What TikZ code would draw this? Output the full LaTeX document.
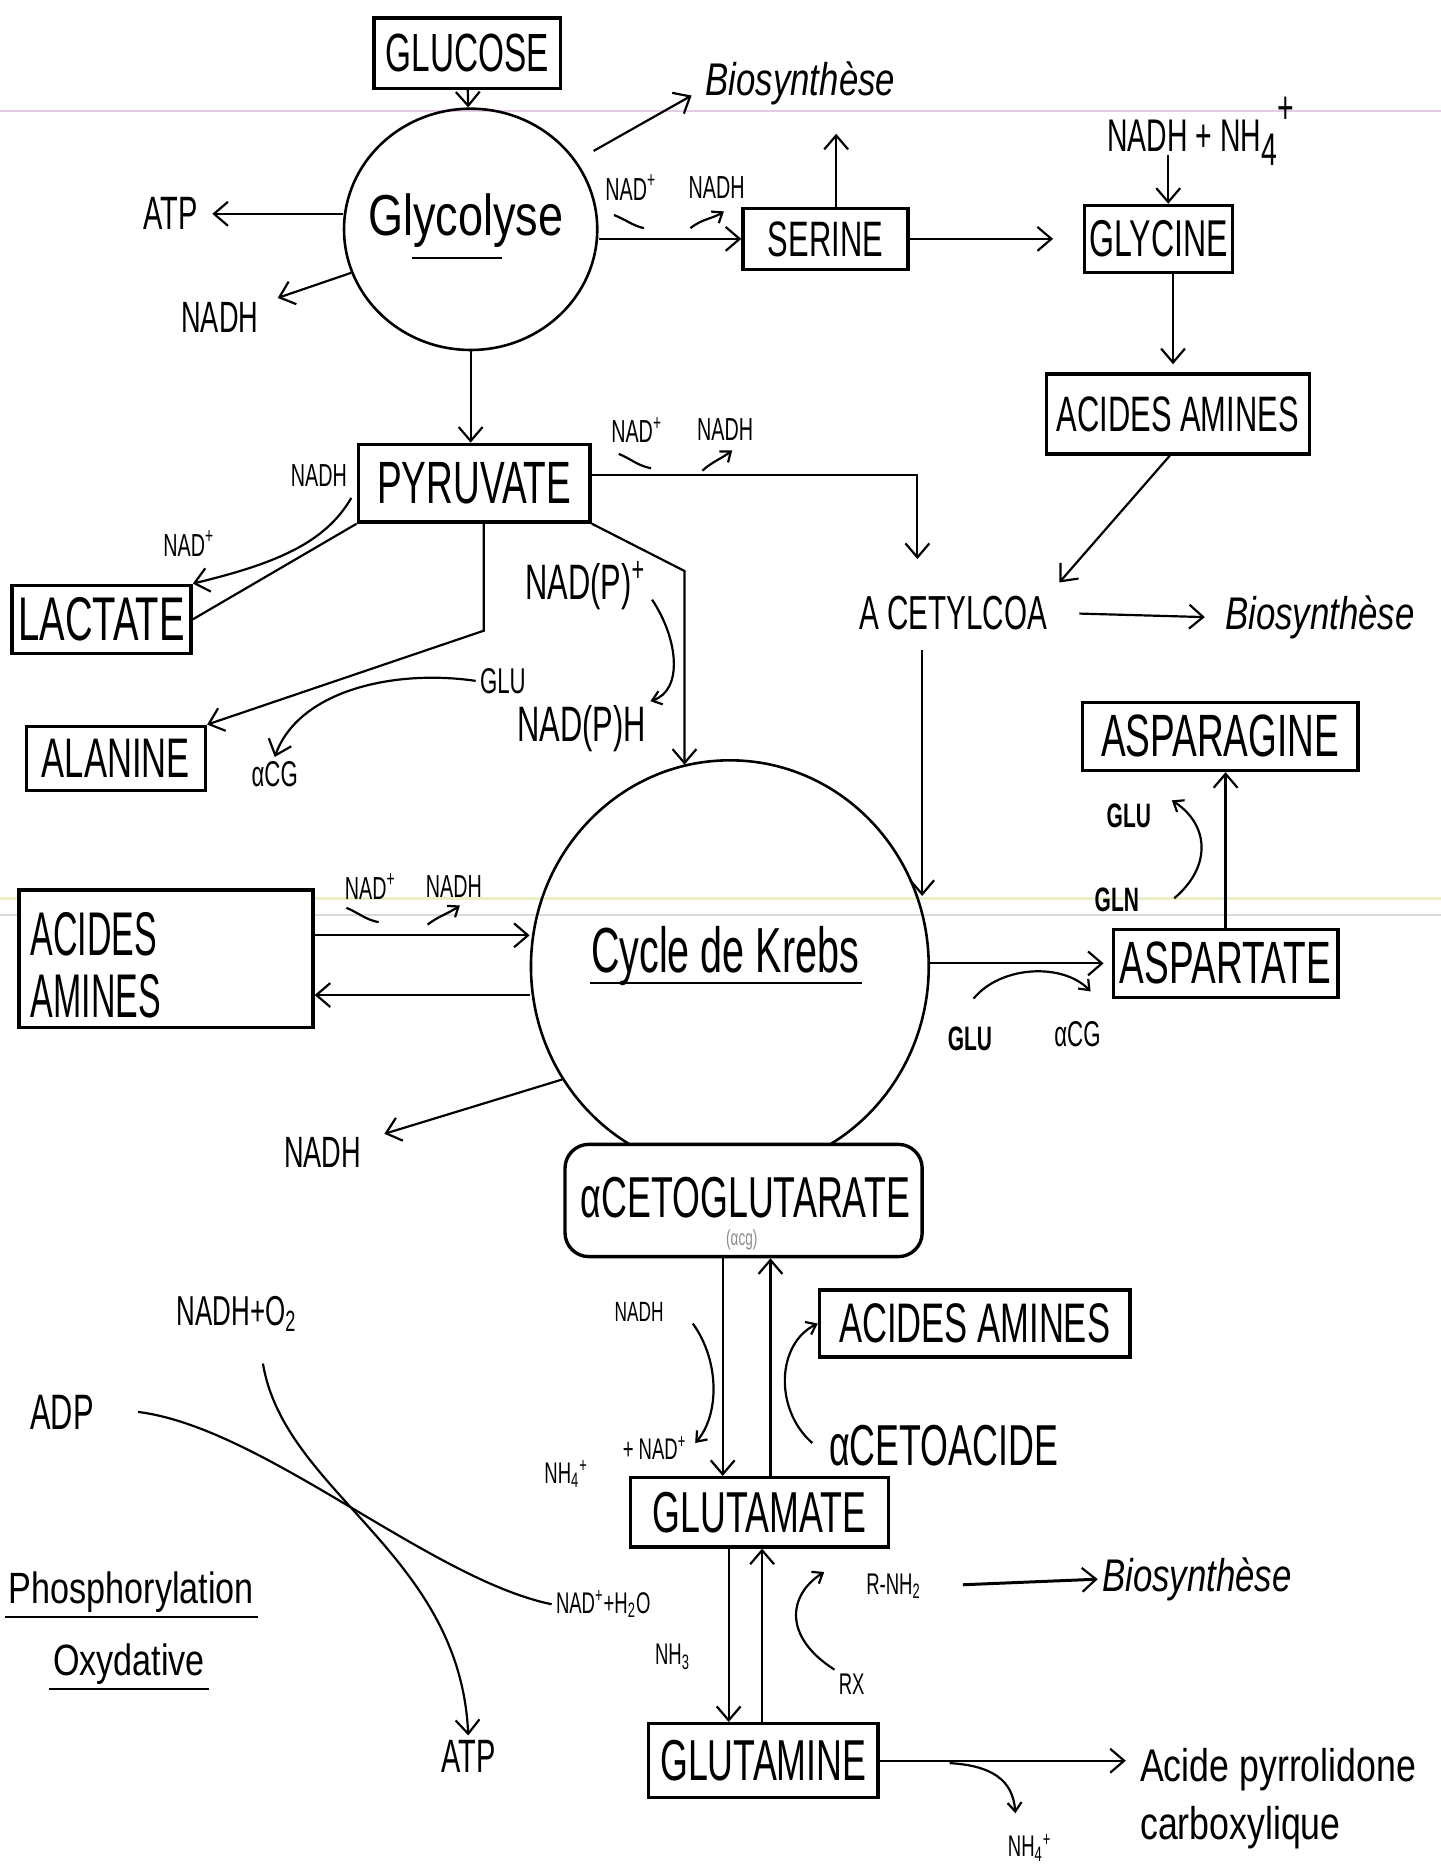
\documentclass[tikz,border=0pt]{standalone}
\usepackage{fontspec}
\setmainfont{Liberation Sans}
\newfontfamily\nf{Liberation Sans}[FakeStretch=0.62]
\newfontfamily\nnf{Liberation Sans}[FakeStretch=0.55]
\newfontfamily\mf{Liberation Sans}[FakeStretch=0.78]
\newfontfamily\itf{Liberation Sans}[FakeStretch=0.76]
\usetikzlibrary{arrows.meta,shapes.geometric,calc}
\newcommand\fsz[1]{\fontsize{#1}{#1}\selectfont}
\definecolor{scanpink}{RGB}{228,205,228}
\definecolor{scanyel}{RGB}{238,238,196}
\begin{document}
\begin{tikzpicture}[x=0.6pt,y=-0.6pt,
  bx/.style={draw,line width=1.7pt,inner sep=0pt,fill=white},
  wh/.style 2 args={minimum width=#1*0.6pt,minimum height=#2*0.6pt},
  ln/.style={line width=1.1pt},
  arr/.style={line width=1.1pt,-{Straight Barb[length=7pt,width=12pt,line width=1.1pt]}},
  sarr/.style={line width=1.1pt,-{Straight Barb[length=4.5pt,width=7pt,line width=1.1pt]}},
  txt/.style={inner sep=2pt},
  tx/.style={txt,font=\nf\fsz{#1}},
  mx/.style={txt,font=\mf\fsz{#1}},
  ix/.style={txt,font=\itf\itshape\fsz{#1}},
  ring/.style={draw,ellipse,line width=1.3pt,inner sep=0pt},
]
\fill[white] (0,0) rectangle (1206,1568);
\useasboundingbox (0,0) rectangle (1206,1568);
% faint scan lines
\draw[scanpink,line width=0.8pt] (0,93) -- (1206,93);
\draw[scanyel,line width=1.5pt] (0,752) -- (1206,752);
\draw[black!15,line width=0.6pt] (0,766) -- (1206,766);

% ---------- top part
\node[bx,wh={156}{59},tx=27] (glucose) at (391,44.5) {GLUCOSE};
\node[ring,wh={212}{202}] (glyc) at (394,192) {};
\node[mx=29] (glyct) at (390,185) {Glycolyse};
\draw[ln] (345,216) -- (420,216);
\node[tx=23.5] (atp1) at (143,179) {ATP};
\node[tx=22] (nadh1) at (184,266) {NADH};
\node[ix=23] (bio1) at (670,70) {Biosynthèse};
\node[bx,wh={138}{51},tx=25] (serine) at (691,200) {SERINE};
\node[tx=16] (nad1) at (528,157) {NAD\textsuperscript{+}};
\node[tx=16] (nadh1b) at (600,157) {NADH};
\node[bx,wh={124}{56},tx=26] (glycine) at (970,200) {GLYCINE};
\node[tx=23] (nadhnh) at (1005,110) {NADH + NH\raisebox{-7pt}{4}\raisebox{14pt}{+}};
\node[bx,wh={220}{67},tx=25] (aa1) at (986,346.5) {ACIDES AMINES};

\node[bx,wh={194}{65},tx=30] (pyr) at (397,404.5) {PYRUVATE};
\node[bx,wh={150}{57},tx=31] (lact) at (85,518.5) {LACTATE};
\node[bx,wh={150}{54},tx=28] (ala) at (97,635) {ALANINE};
\node[tx=24] (acoa) at (798,513) {A CETYLCOA};
\node[ix=23] (bio2) at (1105,517) {Biosynthèse};
\node[tx=16] (nad2) at (533,360) {NAD\textsuperscript{+}};
\node[tx=16] (nadh2) at (607,360) {NADH};
\node[tx=16] (nadh2l) at (267,398) {NADH};
\node[tx=16] (nad2l) at (158,455) {NAD\textsuperscript{+}};
\node[tx=18] (glu1) at (421,570) {GLU};
\node[tx=18] (acg1) at (230,648) {αCG};
\node[tx=25] (nadp) at (490,490) {NAD(P)\textsuperscript{+}};
\node[tx=25] (nadph) at (487,610) {NAD(P)H};

% ---------- Krebs
\node[ring,wh={333}{345}] (krebs) at (611,809) {};
\node[tx=32] (krebst) at (607,800) {Cycle de Krebs};
\draw[ln] (494,823) -- (722,823);
\node[bx,wh={231}{57},tx=30] (aspg) at (1021.5,616.5) {ASPARAGINE};
\node[bx,wh={188}{57},tx=30] (aspt) at (1026,806.5) {ASPARTATE};
\node[txt,font=\nf\bfseries\fsz{17}] (glu3) at (945,683) {GLU};
\node[txt,font=\nf\bfseries\fsz{17}] (gln) at (935,753) {GLN};
\node[txt,font=\nf\bfseries\fsz{17}] (glu2) at (812,870) {GLU};
\node[tx=18] (acg2) at (902,866) {αCG};
\node[bx,wh={246}{115}] (aaL) at (139,802.5) {};
\node[txt,font=\nnf\fontsize{31}{31}\selectfont,align=left,anchor=west] (aaLt) at (22,808) {ACIDES\\AMINES};
\node[tx=16] (nad3) at (310,742) {NAD\textsuperscript{+}};
\node[tx=16] (nadh3) at (380,742) {NADH};
\node[tx=22] (nadh4) at (270,965) {NADH};

\node[bx,rounded corners=12pt,wh={299}{94}] (acg) at (622.5,1005) {};
\node[tx=29] (acgt) at (624,1003) {αCETOGLUTARATE};
\node[txt,font=\nf\fsz{11},text=black!45] (acgs) at (621,1038) {(αcg)};

% ---------- bottom part
\node[tx=14] (nadh5) at (535,1098) {NADH};
\node[tx=15] (nh4a) at (474,1234) {NH\textsubscript{4}\textsuperscript{+}};
\node[tx=15] (nad5) at (548,1212) {+ NAD\textsuperscript{+}};
\node[bx,wh={260}{56},tx=28] (aa2) at (816,1108) {ACIDES AMINES};
\node[tx=29] (cetoac) at (790,1210) {αCETOACIDE};
\node[bx,wh={216}{58},tx=29] (glut) at (636,1266) {GLUTAMATE};
\node[bx,wh={192}{62},tx=29] (glun) at (639,1474) {GLUTAMINE};
\node[tx=15] (rnh2) at (748,1328) {R-NH\textsubscript{2}};
\node[tx=15] (rx) at (713,1410) {RX};
\node[ix=23] (bio3) at (1002,1322) {Biosynthèse};
\node[tx=15] (nadh2o) at (505,1343) {NAD\textsuperscript{+}+H\textsubscript{2}O};
\node[tx=15] (nh3) at (563,1387) {NH\textsubscript{3}};
\node[txt,font=\mf\fontsize{23}{29}\selectfont,align=left] (apc) at (1070,1506) {Acide pyrrolidone\\carboxylique};
\node[tx=15] (nh4b) at (862,1547) {NH\textsubscript{4}\textsuperscript{+}};
\node[tx=21] (nado2) at (198,1100) {NADH+O\textsubscript{2}};
\node[tx=25] (adp) at (52,1182) {ADP};
\node[tx=23.5] (atp2) at (392,1470) {ATP};
\node[mx=22] (phos) at (110,1333) {Phosphorylation};
\node[mx=22] (oxy) at (108,1393) {Oxydative};
\draw[ln] (phos.south west) -- (phos.south east);
\draw[ln] (oxy.south west) -- (oxy.south east);

% ---------- connectors (top)
\draw[arr] (glucose) -- (glyc);
\draw[arr,shorten >=5pt] (glyc.west |- atp1) -- (atp1);
\draw[arr,shorten >=8pt] (glyc.200) -- (nadh1);
\draw[arr,shorten <=10pt] (glyc.33) -- ([shift={(-8,10)}]bio1.west);
\draw[arr] (glyc.east |- serine) -- (serine.west);
\draw[ln] (514,180) .. controls (524,184) and (530,189) .. (539,191);
\draw[sarr] (578,191) .. controls (588,183) and (597,183) .. (606,177);
\coordinate (serup) at (700,112);
\draw[arr] (serine.north -| serup) -- (serup);
\draw[arr,shorten >=15pt] (serine) -- (glycine);
\coordinate (glyin) at (978,130);
\draw[arr] (glyin) -- (glyin |- glycine.north);
\coordinate (gx) at (982,0);
\draw[arr,shorten >=4pt] (glycine.south -| gx) -- (aa1.north -| gx);
\draw[arr,shorten >=6pt] ([xshift=-4pt]aa1.south) -- (acoa.north east);

\draw[arr] (glyc.south) -- (glyc.south |- pyr.north);
\coordinate (acin) at (768,468);
\draw[arr] ([yshift=4pt]pyr.east) -| (acin);
\draw[ln] (518,380) .. controls (528,384) and (534,390) .. (545,392);
\draw[sarr] (588,394) .. controls (597,386) and (604,384) .. (613,377);
\draw[arr,shorten <=14pt,shorten >=8pt] (acoa.east) -- (bio2.west);
\coordinate (kin) at (772,750);
\draw[arr,shorten <=8pt] (acoa.south -| kin) -- (kin);

\draw[ln] (pyr.south west) -- (lact.east);
\draw[arr] ([shift={(0,6)}]nadh2l.south east) .. controls (272,455) and (230,472) .. (lact.north east);
\coordinate (alk) at (405,528);
\draw[arr] (pyr.south -| alk) -- (alk) -- (ala.north east);
\draw[arr] (glu1.west) .. controls (330,560) and (250,578) .. (acg1.north);
\coordinate (pk) at (573,478);
\draw[arr] (pyr.south east) -- (pk) -- (pk |- krebs.103);
\draw[sarr] ([shift={(2,12)}]nadp.east) .. controls (568,535) and (572,578) .. (nadph.north east);

% ---------- connectors (Krebs)
\path ($(aaL.east)+(0,-19.5)$) coordinate (a1) ($(aaL.east)+(0,30.5)$) coordinate (a2);
\draw[arr] (a1) -- (a1 -| krebs.west);
\draw[arr] (a2 -| krebs.west) -- (a2);
\draw[ln] (290,760) .. controls (300,764) and (306,770) .. (317,772);
\draw[sarr] (358,774) .. controls (367,767) and (375,765) .. (385,758);
\draw[arr,shorten >=10pt] (krebs.214) -- (nadh4);
\draw[arr,shorten >=4pt] (krebs.east |- aspt.west) -- (aspt.west);
\draw[sarr] (815,836) .. controls (838,808) and (890,806) .. (913,830);
\draw[arr] (aspt.north) -- (aspt.north |- aspg.south);
\draw[sarr] (983,752) .. controls (1015,725) and (1012,690) .. (981,670);

% ---------- connectors (bottom)
\coordinate (dn) at (605,0);
\coordinate (up) at (645,0);
\draw[arr] (acg.south -| dn) -- (glut.north -| dn);
\draw[arr] (glut.north -| up) -- (acg.south -| up);
\draw[sarr] (580,1108) .. controls (603,1140) and (602,1185) .. (582,1208);
\draw[sarr] (680,1208) .. controls (648,1180) and (650,1125) .. (aa2.west);
\coordinate (gd) at (610,0);
\coordinate (gu) at (638,0);
\draw[arr] (glut.south -| gd) -- (glun.north -| gd);
\draw[arr] (glun.north -| gu) -- (glut.south -| gu);
\draw[sarr] (rx.north west) .. controls (655,1370) and (660,1335) .. (690,1316);
\draw[arr,line width=1.5pt,shorten <=19pt] (rnh2.east) -- (bio3.west);
\draw[arr,shorten >=5pt] (glun.east) -- (glun.east -| apc.west);
\draw[sarr] (795,1476) .. controls (830,1478) and (848,1490) .. (850,1518);
\draw[arr,shorten <=14pt] ([xshift=11pt]nado2.south) .. controls (238,1250) and (385,1300) .. (atp2.north);
\draw[ln] ([xshift=20pt]adp.east) .. controls (220,1195) and (360,1322) .. (nadh2o.west);
\end{tikzpicture}
\end{document}
